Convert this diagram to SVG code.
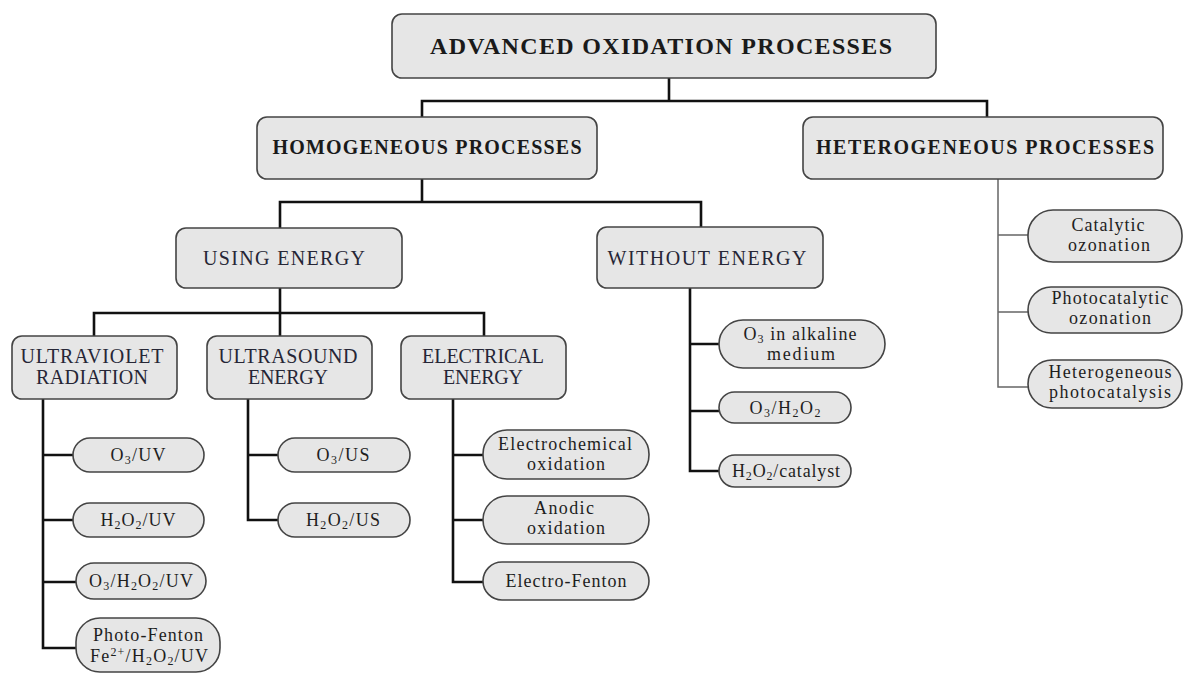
<svg xmlns="http://www.w3.org/2000/svg" width="1184" height="673" viewBox="0 0 1184 673">
<defs>
<style>
.box{fill:#e6e6e6;stroke:#444;stroke-width:1.6}
.pill{fill:#e6e6e6;stroke:#444;stroke-width:1.6}
.t{font-family:"Liberation Serif","Times New Roman",serif;text-anchor:middle;fill:#1a1a1a}
.h1{font-size:24px;font-weight:bold}
.h2{font-size:20px;font-weight:bold}
.h3{font-size:20px;fill:#262636}
.p{font-size:18px;fill:#1e1e1e}
.s{font-size:12px}
.c{fill:none;stroke:#111;stroke-width:2.6}
.cl{fill:none;stroke:#666;stroke-width:1.5}
</style>
</defs>
<rect width="1184" height="673" fill="#fff"/>
<g id="connectors">
<path class="c" d="M669 78V101M422 117V101H987V117"/>
<path class="c" d="M422 179V202M280 228V202H701V227"/>
<path class="c" d="M280 288V336M94 336V313H484V336"/>
<path class="c" d="M43 399V648H76M43 455H73M43 520H73M43 582H76"/>
<path class="c" d="M248 399V520H278M248 455H278"/>
<path class="c" d="M453 399V582H483M453 455H483M453 520H483"/>
<path class="c" d="M690 288V471H719M690 344H719M690 411H719"/>
<path class="cl" d="M998 179V387H1028M998 235H1028M998 312H1028"/>
</g>
<g id="n-aop"><rect class="box" x="392" y="14" width="544" height="64" rx="10"/><text class="t h1" x="661" y="54" textLength="462" lengthAdjust="spacing">ADVANCED OXIDATION PROCESSES</text></g>
<g id="n-homo"><rect class="box" x="257" y="117" width="340" height="62" rx="10"/><text class="t h2" x="427" y="154" textLength="309" lengthAdjust="spacing">HOMOGENEOUS PROCESSES</text></g>
<g id="n-hetero"><rect class="box" x="803" y="117" width="360" height="62" rx="10"/><text class="t h2" x="985" y="154" textLength="338" lengthAdjust="spacing">HETEROGENEOUS PROCESSES</text></g>
<g id="n-using"><rect class="box" x="176" y="228" width="226" height="60" rx="10"/><text class="t h3" x="284" y="265" textLength="162" lengthAdjust="spacing">USING ENERGY</text></g>
<g id="n-without"><rect class="box" x="597" y="227" width="226" height="61" rx="10"/><text class="t h3" x="707" y="265" textLength="199" lengthAdjust="spacing">WITHOUT ENERGY</text></g>
<g id="n-uv"><rect class="box" x="12" y="336" width="165" height="63" rx="10"/><text class="t h3" x="92" y="363" textLength="143" lengthAdjust="spacing">ULTRAVIOLET</text><text class="t h3" x="92" y="384" textLength="112" lengthAdjust="spacing">RADIATION</text></g>
<g id="n-us"><rect class="box" x="207" y="336" width="165" height="63" rx="10"/><text class="t h3" x="288" y="363" textLength="139" lengthAdjust="spacing">ULTRASOUND</text><text class="t h3" x="288" y="384" textLength="80" lengthAdjust="spacing">ENERGY</text></g>
<g id="n-elec"><rect class="box" x="401" y="336" width="165" height="63" rx="10"/><text class="t h3" x="483" y="363" textLength="122" lengthAdjust="spacing">ELECTRICAL</text><text class="t h3" x="483" y="384" textLength="80" lengthAdjust="spacing">ENERGY</text></g>
<g id="n-o3uv"><rect class="pill" x="73" y="438" width="131" height="34" rx="17"/><text class="t p" x="138" y="461" textLength="55" lengthAdjust="spacing">O<tspan class="s" dy="3">3</tspan><tspan dy="-3">/UV</tspan></text></g>
<g id="n-h2o2uv"><rect class="pill" x="73" y="503" width="131" height="34" rx="17"/><text class="t p" x="138" y="526" textLength="75" lengthAdjust="spacing">H<tspan class="s" dy="3">2</tspan><tspan dy="-3">O</tspan><tspan class="s" dy="3">2</tspan><tspan dy="-3">/UV</tspan></text></g>
<g id="n-o3h2o2uv"><rect class="pill" x="76" y="563" width="130" height="36" rx="18"/><text class="t p" x="141" y="587" textLength="104" lengthAdjust="spacing">O<tspan class="s" dy="3">3</tspan><tspan dy="-3">/H</tspan><tspan class="s" dy="3">2</tspan><tspan dy="-3">O</tspan><tspan class="s" dy="3">2</tspan><tspan dy="-3">/UV</tspan></text></g>
<g id="n-photofenton"><rect class="pill" x="76" y="618" width="144" height="54" rx="24"/><text class="t p" x="148" y="641" textLength="110" lengthAdjust="spacing">Photo-Fenton</text><text class="t p" x="149" y="662" textLength="118" lengthAdjust="spacing">Fe<tspan class="s" dy="-6">2+</tspan><tspan dy="6">/H</tspan><tspan class="s" dy="3">2</tspan><tspan dy="-3">O</tspan><tspan class="s" dy="3">2</tspan><tspan dy="-3">/UV</tspan></text></g>
<g id="n-o3us"><rect class="pill" x="278" y="438" width="132" height="34" rx="17"/><text class="t p" x="343" y="461" textLength="53" lengthAdjust="spacing">O<tspan class="s" dy="3">3</tspan><tspan dy="-3">/US</tspan></text></g>
<g id="n-h2o2us"><rect class="pill" x="278" y="503" width="132" height="34" rx="17"/><text class="t p" x="343" y="526" textLength="74" lengthAdjust="spacing">H<tspan class="s" dy="3">2</tspan><tspan dy="-3">O</tspan><tspan class="s" dy="3">2</tspan><tspan dy="-3">/US</tspan></text></g>
<g id="n-electrochem"><rect class="pill" x="483" y="430" width="166" height="49" rx="24"/><text class="t p" x="565" y="450" textLength="134" lengthAdjust="spacing">Electrochemical</text><text class="t p" x="566" y="470" textLength="78" lengthAdjust="spacing">oxidation</text></g>
<g id="n-anodic"><rect class="pill" x="483" y="496" width="166" height="48" rx="24"/><text class="t p" x="564" y="514" textLength="60" lengthAdjust="spacing">Anodic</text><text class="t p" x="566" y="534" textLength="78" lengthAdjust="spacing">oxidation</text></g>
<g id="n-electrofenton"><rect class="pill" x="483" y="562" width="166" height="38" rx="19"/><text class="t p" x="566" y="587" textLength="121" lengthAdjust="spacing">Electro-Fenton</text></g>
<g id="n-o3alk"><rect class="pill" x="719" y="320" width="166" height="48" rx="24"/><text class="t p" x="800" y="340" textLength="113" lengthAdjust="spacing">O<tspan class="s" dy="3">3</tspan><tspan dy="-3"> in alkaline</tspan></text><text class="t p" x="801" y="360" textLength="68" lengthAdjust="spacing">medium</text></g>
<g id="n-o3h2o2"><rect class="pill" x="719" y="392" width="132" height="31" rx="15.5"/><text class="t p" x="785" y="414" textLength="71" lengthAdjust="spacing">O<tspan class="s" dy="3">3</tspan><tspan dy="-3">/H</tspan><tspan class="s" dy="3">2</tspan><tspan dy="-3">O</tspan><tspan class="s" dy="3">2</tspan></text></g>
<g id="n-h2o2cat"><rect class="pill" x="719" y="455" width="132" height="32" rx="16"/><text class="t p" x="786" y="477" textLength="108" lengthAdjust="spacing">H<tspan class="s" dy="3">2</tspan><tspan dy="-3">O</tspan><tspan class="s" dy="3">2</tspan><tspan dy="-3">/catalyst</tspan></text></g>
<g id="n-catoz"><rect class="pill" x="1028" y="210" width="154" height="52" rx="25"/><text class="t p" x="1108" y="231" textLength="73" lengthAdjust="spacing">Catalytic</text><text class="t p" x="1109" y="251" textLength="82" lengthAdjust="spacing">ozonation</text></g>
<g id="n-photocatoz"><rect class="pill" x="1028" y="287" width="154" height="46" rx="23"/><text class="t p" x="1110" y="304" textLength="117" lengthAdjust="spacing">Photocatalytic</text><text class="t p" x="1110" y="324" textLength="82" lengthAdjust="spacing">ozonation</text></g>
<g id="n-hetphoto"><rect class="pill" x="1028" y="360" width="154" height="48" rx="24"/><text class="t p" x="1110" y="378" textLength="123" lengthAdjust="spacing">Heterogeneous</text><text class="t p" x="1110" y="398" textLength="122" lengthAdjust="spacing">photocatalysis</text></g>
</svg>
